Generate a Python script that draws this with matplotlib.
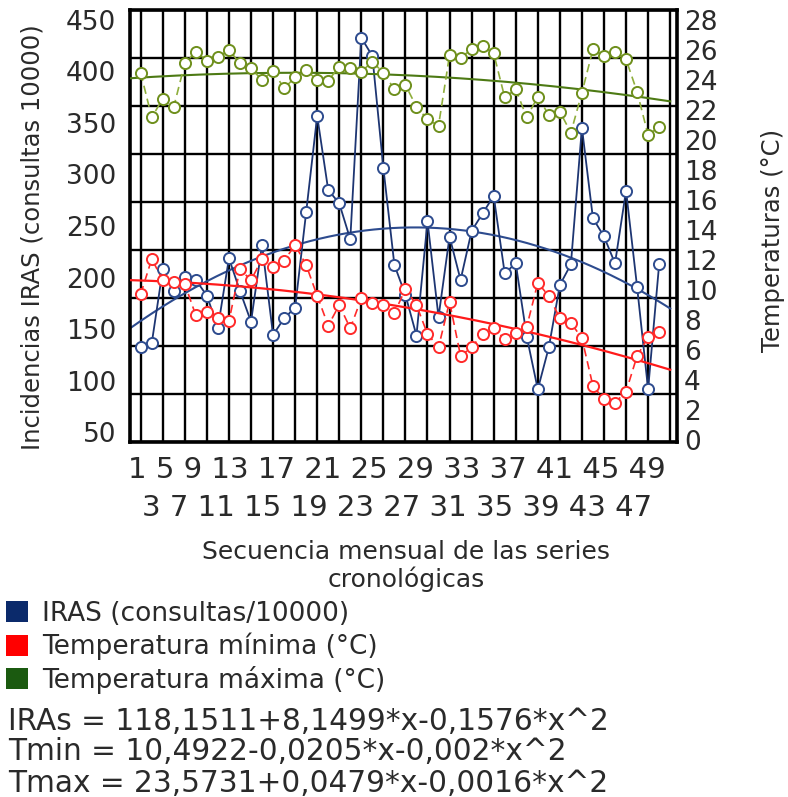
import numpy as np
import matplotlib
matplotlib.use("Agg")
import matplotlib.pyplot as plt
from matplotlib.patches import Patch

# ---------------- data ----------------
months = np.arange(1, 49)

iras = [98.6, 102.8, 179.7, 157.3, 171.9, 168.8, 152.4, 119.0, 191.4, 157.3,
        125.3, 205.2, 111.5, 128.9, 139.9, 239.3, 339.6, 262.5, 248.6, 211.1,
        421.1, 402.1, 285.4, 184.4, 153.1, 110.9, 230.0, 130.2, 213.9, 168.8,
        219.8, 238.2, 256.3, 175.7, 186.1, 109.7, 54.9, 98.6, 163.5, 185.1,
        327.4, 233.0, 214.1, 186.1, 261.8, 161.8, 54.9, 185.1]

tmin = [9.59, 11.86, 10.50, 10.37, 10.24, 8.20, 8.43, 8.04, 7.84, 11.22,
        10.48, 11.87, 11.32, 11.75, 12.77, 11.47, 9.48, 7.54, 8.88, 7.37,
        9.31, 9.03, 8.85, 8.34, 9.93, 8.88, 7.00, 6.14, 9.09, 5.57,
        6.14, 7.00, 7.37, 6.66, 7.04, 7.47, 10.32, 9.46, 8.02, 7.73,
        6.72, 3.63, 2.77, 2.55, 3.26, 5.57, 6.79, 7.15]

tmax = [23.93, 21.04, 22.25, 21.73, 24.54, 25.30, 24.71, 24.93, 25.41, 24.54,
        24.22, 23.46, 24.06, 22.92, 23.64, 24.11, 23.46, 23.42, 24.32, 24.26,
        24.00, 24.65, 23.93, 22.86, 23.14, 21.73, 20.91, 20.50, 25.08, 24.91,
        25.45, 25.66, 25.19, 22.34, 22.86, 21.04, 22.38, 21.19, 21.41, 20.05,
        22.64, 25.45, 25.02, 25.30, 24.80, 22.70, 19.90, 20.43]

# trend coefficients printed on the chart (c0 + c1*x + c2*x^2)
coef_iras = [118.1511, 8.1499, -0.1576]
coef_tmin = [10.4922, -0.0205, -0.002]
coef_tmax = [23.5731, 0.0479, -0.0016]

left_tick_labels = [50, 100, 150, 200, 250, 300, 350, 400, 450]
right_tick_labels = [0, 2, 4, 6, 8, 10, 12, 14, 16, 18, 20, 22, 24, 26, 28]
x_row1 = [1, 5, 9, 13, 17, 21, 25, 29, 33, 37, 41, 45, 49]
x_row2 = [3, 7, 11, 15, 19, 23, 27, 31, 35, 39, 43, 47]

legend_labels = ["IRAS (consultas/10000)", "Temperatura mínima (°C)",
                 "Temperatura máxima (°C)"]
equations = ["IRAs = 118,1511+8,1499*x-0,1576*x^2",
             "Tmin = 10,4922-0,0205*x-0,002*x^2",
             "Tmax = 23,5731+0,0479*x-0,0016*x^2"]

# ---------------- style ----------------
plt.rcParams['font.family'] = ['DejaVu Sans']
W, H = 788, 797
fig = plt.figure(figsize=(W / 100, H / 100), dpi=100)

px_l, px_r, px_t, px_b = 130, 677, 10, 442
pos = [px_l / W, 1 - px_b / H, (px_r - px_l) / W, (px_b - px_t) / H]

txt_c = '#2a2a2a'
c_blue_line = '#1d3572'
c_blue_mk = '#2d4b8e'
c_red = '#ff2a2a'
c_green_mk = '#6e8f1c'
c_green_line = '#8fae3c'
c_green_trend = '#4d7a14'

ax = fig.add_axes(pos)
ax.set_xlim(0.03, 49.62)
ax.set_ylim(0, 450)
ax.set_xticks(range(1, 50, 2))
ax.set_yticks(range(0, 451, 50))
ax.grid(True, color='black', lw=1.7)
ax.set_axisbelow(True)
ax.tick_params(length=0, labelleft=False, labelbottom=False)
for s in ax.spines.values():
    s.set_linewidth(2.6)
    s.set_color('black')

axT = ax.twinx()
axT.set_ylim(0, 28)
axT.tick_params(length=0, labelright=False)
axT.set_yticks([])
for s in axT.spines.values():
    s.set_visible(False)

xt = np.linspace(0, 49, 300)
def poly(c, x):
    return c[0] + c[1] * x + c[2] * x ** 2

mk = 8
# IRAS
ax.plot(xt, poly(coef_iras, xt), color=c_blue_mk, lw=1.5, zorder=2)
ax.plot(months, iras, color=c_blue_line, lw=1.3, marker='o', ms=mk,
        mfc='white', mec=c_blue_mk, mew=1.4, zorder=3)

# temperatures
axT.plot(xt, poly(coef_tmin, xt), color='#ff1a1a', lw=1.6, zorder=2)
axT.plot(months, tmin, color=c_red, lw=1.2, ls=(0, (5, 3)), marker='o', ms=mk,
         mfc='white', mec=c_red, mew=1.4, zorder=3)
axT.plot(xt, poly(coef_tmax, xt), color=c_green_trend, lw=1.5, zorder=2)
axT.plot(months, tmax, color=c_green_line, lw=1.2, ls=(0, (5, 3)), marker='o',
         ms=mk, mfc='white', mec=c_green_mk, mew=1.4, zorder=3)

# label-only axes reproducing the printed tick labels
tick_fs = 19
axL = fig.add_axes(pos, frameon=False)
axL.set_ylim(40.3, 459.7)
axL.set_yticks(left_tick_labels)
axL.set_yticklabels([str(v) for v in left_tick_labels], fontsize=tick_fs, color=txt_c)
axL.set_xticks([])
axL.tick_params(length=0, pad=10)
axL.patch.set_visible(False)

axR = fig.add_axes(pos, frameon=False)
axR.set_ylim(-0.13, 28.67)
axR.yaxis.tick_right()
axR.set_yticks(right_tick_labels)
axR.set_yticklabels([str(v) for v in right_tick_labels], fontsize=tick_fs, color=txt_c)
axR.set_xticks([])
axR.tick_params(length=0, pad=5)
axR.patch.set_visible(False)

# x tick label rows
xc = 397 / W
fig.text(xc, 1 - 470 / H, " ".join(str(v) for v in x_row1), ha='center',
         va='center', fontsize=21, color=txt_c)
fig.text(xc, 1 - 508 / H, " ".join(str(v) for v in x_row2), ha='center',
         va='center', fontsize=21, color=txt_c)

fig.text(406 / W, 1 - 566 / H, "Secuencia mensual de las series\ncronológicas",
         ha='center', va='center', fontsize=18, color=txt_c, linespacing=1.1)

fig.text(33 / W, 1 - 237 / H, "Incidencias IRAS (consultas 10000)", rotation=90,
         ha='center', va='center', fontsize=17.5, color=txt_c)
fig.text(773 / W, 1 - 240 / H, "Temperaturas (°C)", rotation=90,
         ha='center', va='center', fontsize=17.5, color=txt_c)

# legend
handles = [Patch(facecolor='#0b2a6b'), Patch(facecolor='#ff0000'),
           Patch(facecolor='#1b5a10')]
fig.legend(handles, legend_labels, loc='upper left',
           bbox_to_anchor=(6 / W, 1 - 601 / H), frameon=False, fontsize=19,
           handlelength=0.85, handleheight=0.85, handletextpad=0.5,
           labelspacing=0.22, borderpad=0, borderaxespad=0, labelcolor=txt_c)

for i, eq in enumerate(equations):
    fig.text(8 / W, 1 - (721 + 31 * i) / H, eq, ha='left', va='center',
             fontsize=21.3, color=txt_c)

fig.savefig("out.png", dpi=100)
